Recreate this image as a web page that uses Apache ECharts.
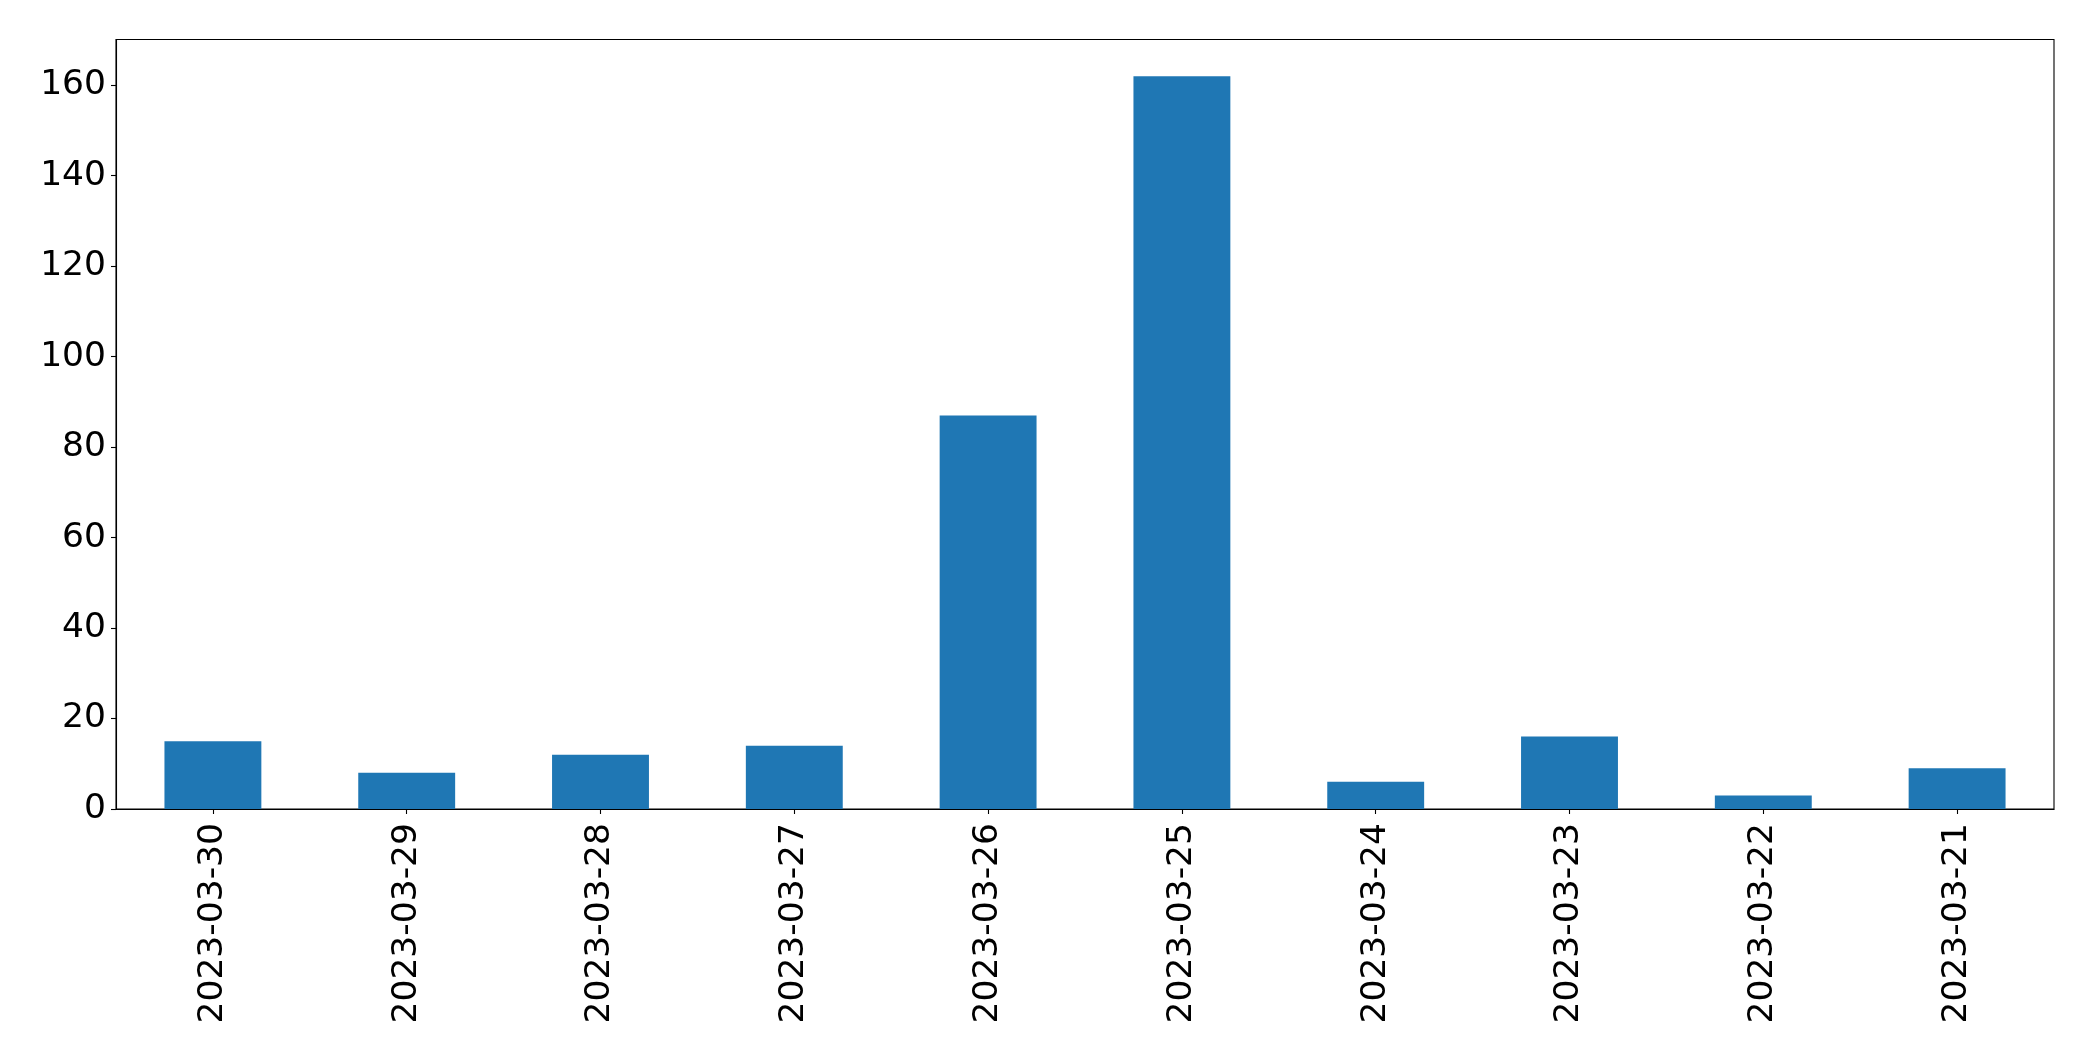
<!DOCTYPE html>
<html>
<head>
<meta charset="utf-8">
<script src="https://cdn.jsdelivr.net/npm/echarts@6/dist/echarts.min.js"></script>
<style>
html,body{margin:0;padding:0;background:#fff;}
#chart{width:2093px;height:1061px;}
</style>
</head>
<body>
<div id="chart"></div>
<script>
const categories = ['2023-03-30','2023-03-29','2023-03-28','2023-03-27','2023-03-26','2023-03-25','2023-03-24','2023-03-23','2023-03-22','2023-03-21'];
const counts = [15, 8, 12, 14, 87, 162, 6, 16, 3, 9];
const yTicks = [0, 20, 40, 60, 80, 100, 120, 140, 160];

const chart = echarts.init(document.getElementById('chart'));
chart.setOption({
  animation: false,
  backgroundColor: '#ffffff',
  grid: {
    left: 116, top: 39.5, right: 39, bottom: 252,
    show: true, borderColor: '#000', borderWidth: 1.1, backgroundColor: 'transparent'
  },
  xAxis: {
    type: 'category',
    data: categories,
    boundaryGap: true,
    axisLine: { show: true, lineStyle: { color: '#000', width: 1.1 } },
    axisTick: { show: true, alignWithLabel: true, length: 5, lineStyle: { color: '#000', width: 1.1 } },
    axisLabel: {
      rotate: 90, margin: 14, color: '#000',
      fontFamily: 'DejaVu Sans', fontSize: 34.5
    },
    splitLine: { show: false }
  },
  yAxis: {
    type: 'value',
    min: 0,
    max: 170.1,
    interval: 20,
    axisLine: { show: true, lineStyle: { color: '#000', width: 1.1 } },
    axisTick: { show: true, length: 5, lineStyle: { color: '#000', width: 1.1 } },
    axisLabel: {
      margin: 10, color: '#000', fontFamily: 'DejaVu Sans', fontSize: 34.5,
      showMaxLabel: false,
      formatter: function (v) { return yTicks.indexOf(v) >= 0 ? String(v) : ''; }
    },
    splitLine: { show: false }
  },
  series: [{
    type: 'bar',
    data: counts,
    barWidth: '50%',
    itemStyle: { color: '#1f77b4' }
  }]
});
</script>
</body>
</html>
